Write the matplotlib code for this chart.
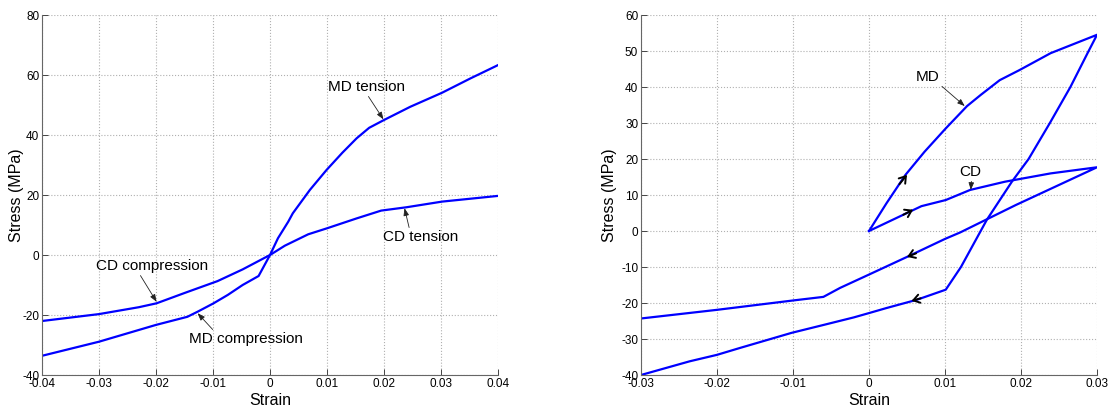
import numpy as np
import matplotlib
matplotlib.use('Agg')
import matplotlib.pyplot as plt

plt.rcParams['font.family'] = ['Liberation Sans', 'DejaVu Sans']
plt.rcParams['axes.unicode_minus'] = False

# Left panel: monotonic curves
md_strain = [-0.04, -0.030, -0.020, -0.0145, -0.0127, -0.0099, -0.0074, -0.0048, -0.002, 0.0,
             0.0014, 0.0032, 0.004, 0.007, 0.0099, 0.0127, 0.0152, 0.0174, 0.020, 0.0246,
             0.0302, 0.0352, 0.04]
md_stress = [-33.6, -28.9, -23.3, -20.6, -18.9, -16.1, -13.3, -10.0, -7.0, 0.0,
             5.6, 11.1, 13.9, 21.7, 28.3, 34.1, 38.9, 42.4, 45.0, 49.4,
             54.1, 58.9, 63.3]
cd_strain = [-0.04, -0.030, -0.023, -0.0199, -0.0149, -0.0092, -0.0048, 0.0, 0.0026, 0.0067,
             0.010, 0.0152, 0.0195, 0.0239, 0.0302, 0.04]
cd_stress = [-22.0, -19.7, -17.4, -16.1, -12.6, -8.7, -4.8, 0.0, 3.1, 6.9,
             8.9, 12.2, 14.8, 15.9, 17.8, 19.7]

# Right panel: cyclic loops
md_loop_strain = [0.0, 0.0023, 0.0048, 0.0073, 0.0101, 0.0129, 0.0147, 0.0172, 0.0198, 0.0239, 0.030,
                  0.0289, 0.0265, 0.0238, 0.0210, 0.0188, 0.0155, 0.0121, 0.0101,
                  0.0063, 0.0023, 0.0, -0.002, -0.0058, -0.0102, -0.017, -0.020, -0.0236, -0.030]
md_loop_stress = [0.0, 7.7, 15.6, 22.0, 28.5, 34.7, 37.8, 41.9, 44.7, 49.4, 54.5,
                  50.0, 40.0, 30.0, 20.0, 13.7, 3.1, -10.0, -16.3,
                  -19.1, -21.4, -22.8, -24.0, -26.0, -28.3, -32.5, -34.4, -36.2, -40.0]
cd_loop_strain = [0.0, 0.0069, 0.0101, 0.0133, 0.0179, 0.0239, 0.030,
                  0.0193, 0.012, 0.010, 0.005, 0.0, -0.0038, -0.006, -0.010, -0.020, -0.030]
cd_loop_stress = [0.0, 6.9, 8.6, 11.4, 13.7, 16.0, 17.7,
                  7.2, -0.4, -2.2, -7.2, -12.1, -15.8, -18.3, -19.3, -21.9, -24.3]

left_xticks = [-0.04, -0.03, -0.02, -0.01, 0, 0.01, 0.02, 0.03, 0.04]
left_xlabels = ['-0.04', '-0.03', '-0.02', '-0.01', '0', '0.01', '0.02', '0.03', '0.04']
left_yticks = [-40, -20, 0, 20, 40, 60, 80]
right_xticks = [-0.03, -0.02, -0.01, 0, 0.01, 0.02, 0.03]
right_xlabels = ['-0.03', '-0.02', '-0.01', '0', '0.01', '0.02', '0.03']
right_yticks = [-40, -30, -20, -10, 0, 10, 20, 30, 40, 50, 60]

blue = '#0000ff'

fig = plt.figure(figsize=(11.1, 4.08), dpi=100)
ax1 = fig.add_axes([42 / 1110, 33 / 408, 456 / 1110, 360 / 408])
ax2 = fig.add_axes([641 / 1110, 33 / 408, 456 / 1110, 360 / 408])


def style(ax, xt, xl, yt, ylab_x):
    ax.set_xticks(xt)
    ax.set_xticklabels(xl)
    ax.set_yticks(yt)
    ax.set_xlim(xt[0], xt[-1])
    ax.set_ylim(yt[0], yt[-1])
    ax.grid(True, linestyle=':', color='#b0b0b0', linewidth=0.8)
    for s in ['top', 'right']:
        ax.spines[s].set_visible(False)
    for s in ['left', 'bottom']:
        ax.spines[s].set_color('#666666')
        ax.spines[s].set_linewidth(0.8)
    ax.tick_params(direction='in', length=4, width=0.7, color='#444444',
                   labelsize=8.5, pad=2)
    ax.set_xlabel('Strain', fontsize=11.5, va='center')
    ax.xaxis.set_label_coords(0.5, -0.072)
    ax.set_ylabel('Stress (MPa)', fontsize=11.5, va='center')
    ax.yaxis.set_label_coords(ylab_x, 0.5)


def note(ax, text, xy, xytext, relpos):
    ax.annotate(text, xy=xy, xytext=xytext, fontsize=11, va='center',
                arrowprops=dict(arrowstyle='-|>,head_length=0.4,head_width=0.15',
                                color='#222222', lw=0.6, shrinkA=0, shrinkB=0,
                                relpos=relpos))


def chevron(ax, tail, head):
    ax.annotate('', xy=head, xytext=tail,
                arrowprops=dict(arrowstyle='->,head_length=0.45,head_width=0.3',
                                color='black', lw=1.4, shrinkA=0, shrinkB=0))


# left panel
ax1.plot(md_strain, md_stress, color=blue, lw=1.6)
ax1.plot(cd_strain, cd_stress, color=blue, lw=1.6)
style(ax1, left_xticks, left_xlabels, left_yticks, -0.057)
note(ax1, 'MD tension', (0.0199, 45.2), (0.0102, 56.1), (0.5, 0.0))
note(ax1, 'CD tension', (0.0236, 15.6), (0.0199, 5.9), (0.35, 1.0))
note(ax1, 'CD compression', (-0.0199, -15.6), (-0.0305, -3.6), (0.38, 0.0))
note(ax1, 'MD compression', (-0.0127, -19.4), (-0.0142, -28.1), (0.23, 1.0))

# right panel
ax2.plot(md_loop_strain, md_loop_stress, color=blue, lw=1.6)
ax2.plot(cd_loop_strain, cd_loop_stress, color=blue, lw=1.6)
style(ax2, right_xticks, right_xlabels, right_yticks, -0.068)
note(ax2, 'MD', (0.0126, 34.7), (0.0062, 42.9), (0.95, 0.0))
note(ax2, 'CD', (0.0134, 11.4), (0.0119, 16.5), (0.55, 0.0))

# direction chevrons
chevron(ax2, (0.0040, 13.0), (0.0050, 15.6))
chevron(ax2, (0.0045, 4.5), (0.0058, 5.9))
chevron(ax2, (0.0062, -6.2), (0.0050, -7.2))
chevron(ax2, (0.0068, -18.7), (0.0056, -19.4))

fig.savefig('out.png', dpi=100)
